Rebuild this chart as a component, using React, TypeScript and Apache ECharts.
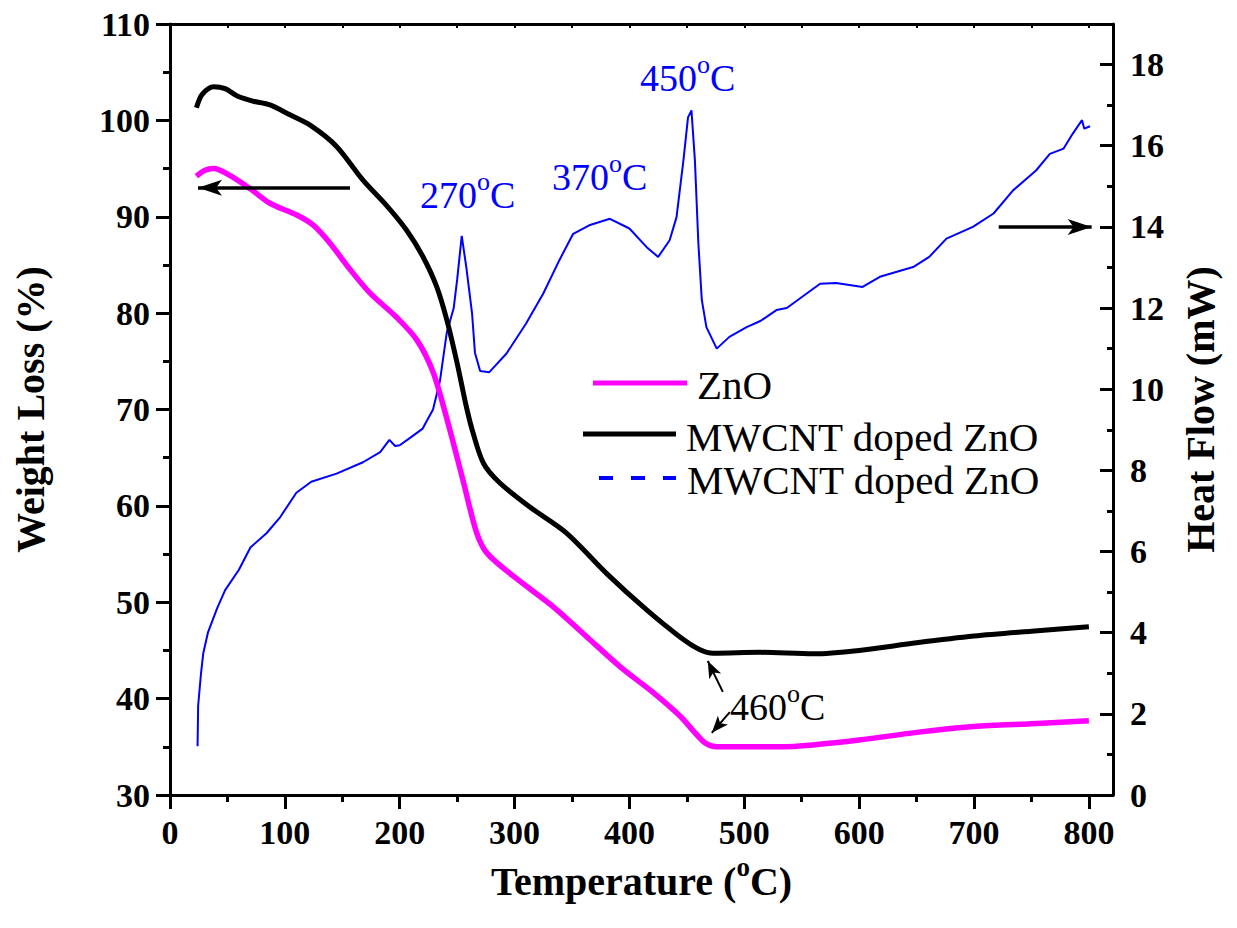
import React, { useEffect, useRef } from 'react';
import * as echarts from 'echarts';

// ZnO weight loss (%)
const znoTemp = [23, 30, 38, 52, 70, 87, 110, 125, 139, 157, 174, 197, 215, 229, 240, 255, 267, 276, 299, 334, 363, 392, 421, 444, 456, 466, 476, 531, 560, 600, 650, 700, 750, 800];
const znoWeight = [94.2, 94.8, 95.0, 94.3, 92.9, 91.4, 90.2, 89.1, 87.3, 84.5, 82.1, 79.6, 77.2, 73.9, 69.5, 62.7, 57.2, 55.1, 52.7, 49.5, 46.4, 43.3, 40.6, 38.2, 36.6, 35.4, 35.0, 35.0, 35.2, 35.7, 36.5, 37.1, 37.4, 37.7];

// MWCNT doped ZnO weight loss (%)
const cntTemp = [23, 28, 38, 48, 59, 72, 87, 104, 122, 145, 168, 189, 206, 220, 232, 241, 250, 258, 264, 273, 287, 313, 345, 380, 415, 444, 461, 473, 514, 560, 600, 650, 700, 750, 800];
const cntWeight = [101.3, 102.7, 103.5, 103.3, 102.5, 102.0, 101.6, 100.6, 99.5, 97.3, 93.8, 91.1, 88.6, 85.9, 82.8, 79.3, 74.8, 70.3, 67.5, 64.4, 62.4, 59.9, 57.2, 53.0, 49.2, 46.4, 45.1, 44.7, 44.8, 44.65, 45.0, 45.8, 46.5, 47.0, 47.45];

// MWCNT doped ZnO heat flow (mW)
const hfTemp = [24, 24.5, 27, 29, 33, 41, 48, 60, 70, 84, 96, 110, 123, 145, 168, 183, 191, 196, 200, 209, 220, 229, 235, 241, 247, 250, 254, 258, 263, 265.5, 270, 278, 293, 310, 325, 339, 351, 365, 383, 400, 415, 425, 435, 441, 447, 451, 454, 457, 460, 463, 467, 476, 487, 502, 514, 528, 537, 566, 580, 603, 618, 647, 661, 676, 699, 717, 734, 754, 766, 778, 786, 794, 796, 801];
const hfFlow = [1.2, 2.2, 3.0, 3.5, 4.0, 4.6, 5.05, 5.55, 6.1, 6.45, 6.85, 7.45, 7.72, 7.92, 8.2, 8.45, 8.75, 8.6, 8.62, 8.8, 9.03, 9.5, 10.2, 11.4, 12.0, 12.7, 13.78, 13.0, 11.86, 10.9, 10.45, 10.42, 10.88, 11.62, 12.36, 13.18, 13.83, 14.04, 14.2, 13.96, 13.5, 13.26, 13.67, 14.24, 15.64, 16.7, 16.87, 15.64, 13.6, 12.2, 11.53, 11.0, 11.29, 11.53, 11.68, 11.95, 12.0, 12.6, 12.62, 12.52, 12.77, 13.01, 13.26, 13.71, 14.0, 14.33, 14.9, 15.39, 15.8, 15.93, 16.3, 16.63, 16.42, 16.48];

const xTickValues = [0, 100, 200, 300, 400, 500, 600, 700, 800];
const topTickValues = [50, 100, 150, 200, 250, 300, 350, 400, 450, 500, 550, 600, 650, 700, 750, 800];
const rightTickValues = [0, 2, 4, 6, 8, 10, 12, 14, 16, 18];

const FONT = 'Liberation Serif';

const pairs = (xs: number[], ys: number[]) => xs.map((x, i) => [x, ys[i]]);

const axisLineStyle = { show: true, onZero: false, lineStyle: { color: '#000', width: 3 } };
const tickLine = { color: '#000', width: 3 };
const labelStyle = { fontFamily: FONT, fontWeight: 'bold' as const, fontSize: 34, color: '#000' };
const nameStyle = { fontFamily: FONT, fontWeight: 'bold' as const, fontSize: 40, color: '#000' };

function annot(text: string, x: number, y: number, color: string) {
  return {
    type: 'text',
    x,
    y,
    z: 50,
    style: {
      text,
      fill: color,
      fontFamily: FONT,
      fontSize: 38,
      verticalAlign: 'middle',
      align: 'left',
      rich: {
        sup: { fontSize: 26, fontFamily: FONT, fill: color, verticalAlign: 'top', padding: [0, 0, 28, 0] },
      },
    },
  };
}

export default function App() {
  const ref = useRef<HTMLDivElement>(null);
  useEffect(() => {
    if (!ref.current) return;
    const chart = echarts.init(ref.current, null, { renderer: 'svg' });
    const option: any = {
      animation: false,
      backgroundColor: '#fff',
      grid: { left: 170, right: 124, top: 24, bottom: 133, containLabel: false },
      xAxis: [
        {
          type: 'value',
          position: 'bottom',
          min: 0,
          max: 821,
          interval: 100,
          axisLine: axisLineStyle,
          axisTick: { show: true, inside: false, length: 14, lineStyle: tickLine, customValues: xTickValues },
          minorTick: { show: true, splitNumber: 2, length: 7, lineStyle: tickLine },
          axisLabel: { ...labelStyle, margin: 20, customValues: xTickValues },
          splitLine: { show: false },
          minorSplitLine: { show: false },
          name: 'Temperature ({sup|o}C)',
          nameLocation: 'middle',
          nameGap: 51,
          nameTextStyle: {
            ...nameStyle,
            rich: { sup: { fontFamily: FONT, fontWeight: 'bold', fontSize: 27, color: '#000', verticalAlign: 'top', padding: [0, 0, 28, 0] } },
          },
        },
        {
          type: 'value',
          position: 'top',
          min: 0,
          max: 821,
          interval: 50,
          axisLine: axisLineStyle,
          axisTick: { show: true, inside: true, length: 4, lineStyle: { color: '#000', width: 2 }, customValues: topTickValues },
          axisLabel: { show: false },
          splitLine: { show: false },
        },
      ],
      yAxis: [
        {
          type: 'value',
          position: 'left',
          min: 30,
          max: 110,
          interval: 10,
          axisLine: axisLineStyle,
          axisTick: { show: true, inside: false, length: 14, lineStyle: tickLine },
          minorTick: { show: true, splitNumber: 2, length: 7, lineStyle: tickLine },
          axisLabel: { ...labelStyle, margin: 20 },
          splitLine: { show: false },
          minorSplitLine: { show: false },
          name: 'Weight Loss (%)',
          nameLocation: 'middle',
          nameRotate: 90,
          nameGap: 120,
          nameTextStyle: nameStyle,
        },
        {
          type: 'value',
          position: 'right',
          min: 0,
          max: 19,
          interval: 2,
          axisLine: axisLineStyle,
          axisTick: { show: true, inside: true, length: 13, lineStyle: tickLine, customValues: rightTickValues },
          minorTick: { show: true, splitNumber: 2, length: 6, lineStyle: tickLine },
          axisLabel: { ...labelStyle, margin: 17, customValues: rightTickValues },
          splitLine: { show: false },
          minorSplitLine: { show: false },
          name: 'Heat Flow (mW)',
          nameLocation: 'middle',
          nameRotate: 90,
          nameGap: 67,
          nameTextStyle: nameStyle,
        },
      ],
      series: [
        {
          name: 'MWCNT doped ZnO (heat flow)',
          type: 'line',
          xAxisIndex: 0,
          yAxisIndex: 1,
          data: pairs(hfTemp, hfFlow),
          showSymbol: false,
          lineStyle: { color: '#0000ff', width: 2 },
          itemStyle: { color: '#0000ff' },
          markLine: {
            silent: true,
            symbol: ['none', 'arrow'],
            symbolSize: [12, 24],
            label: { show: false },
            lineStyle: { color: '#000', width: 3.5, type: 'solid' },
            data: [[{ coord: [721.5, 14] }, { coord: [802.4, 14] }]],
          },
        },
        {
          name: 'ZnO',
          type: 'line',
          xAxisIndex: 0,
          yAxisIndex: 0,
          data: pairs(znoTemp, znoWeight),
          showSymbol: false,
          smooth: 0.3,
          lineStyle: { color: '#ff00ff', width: 5.5 },
          itemStyle: { color: '#ff00ff' },
          markLine: {
            silent: true,
            symbol: ['none', 'arrow'],
            symbolSize: [10, 17],
            label: { show: false },
            lineStyle: { color: '#000', width: 2, type: 'solid' },
            data: [
              [{ coord: [481.3, 40.7] }, { coord: [468.2, 43.9] }],
              [{ coord: [487.4, 38.6] }, { coord: [471.7, 36.45] }],
            ],
          },
        },
        {
          name: 'MWCNT doped ZnO',
          type: 'line',
          xAxisIndex: 0,
          yAxisIndex: 0,
          data: pairs(cntTemp, cntWeight),
          showSymbol: false,
          smooth: 0.3,
          lineStyle: { color: '#000', width: 5 },
          itemStyle: { color: '#000' },
          markLine: {
            silent: true,
            symbol: ['none', 'arrow'],
            symbolSize: [12, 24],
            label: { show: false },
            lineStyle: { color: '#000', width: 3.5, type: 'solid' },
            data: [[{ coord: [156.7, 93.0] }, { coord: [24.4, 93.0] }]],
          },
        },
      ],
      graphic: [
        annot('270{sup|o}C', 420, 195, '#0000ff'),
        annot('370{sup|o}C', 552, 177, '#0000ff'),
        annot('450{sup|o}C', 640, 78, '#0000ff'),
        annot('460{sup|o}C', 730, 707, '#000'),
        { type: 'line', z: 50, shape: { x1: 593, y1: 383, x2: 687, y2: 383 }, style: { stroke: '#ff00ff', lineWidth: 5 } },
        { type: 'text', z: 50, x: 697, y: 385, style: { text: 'ZnO', fill: '#000', fontFamily: FONT, fontSize: 41, verticalAlign: 'middle' } },
        { type: 'line', z: 50, shape: { x1: 583, y1: 434, x2: 676, y2: 434 }, style: { stroke: '#000', lineWidth: 5 } },
        { type: 'text', z: 50, x: 686, y: 437, style: { text: 'MWCNT doped ZnO', fill: '#000', fontFamily: FONT, fontSize: 41, verticalAlign: 'middle' } },
        { type: 'line', z: 50, shape: { x1: 599, y1: 478, x2: 676, y2: 478 }, style: { stroke: '#0000ff', lineWidth: 4, lineDash: [14, 18] } },
        { type: 'text', z: 50, x: 687, y: 480, style: { text: 'MWCNT doped ZnO', fill: '#000', fontFamily: FONT, fontSize: 41, verticalAlign: 'middle' } },
      ],
    };
    chart.setOption(option);
    return () => chart.dispose();
  }, []);
  return <div ref={ref} style={{ width: 1237, height: 928, position: 'absolute', left: 0, top: 0 }} />;
}
